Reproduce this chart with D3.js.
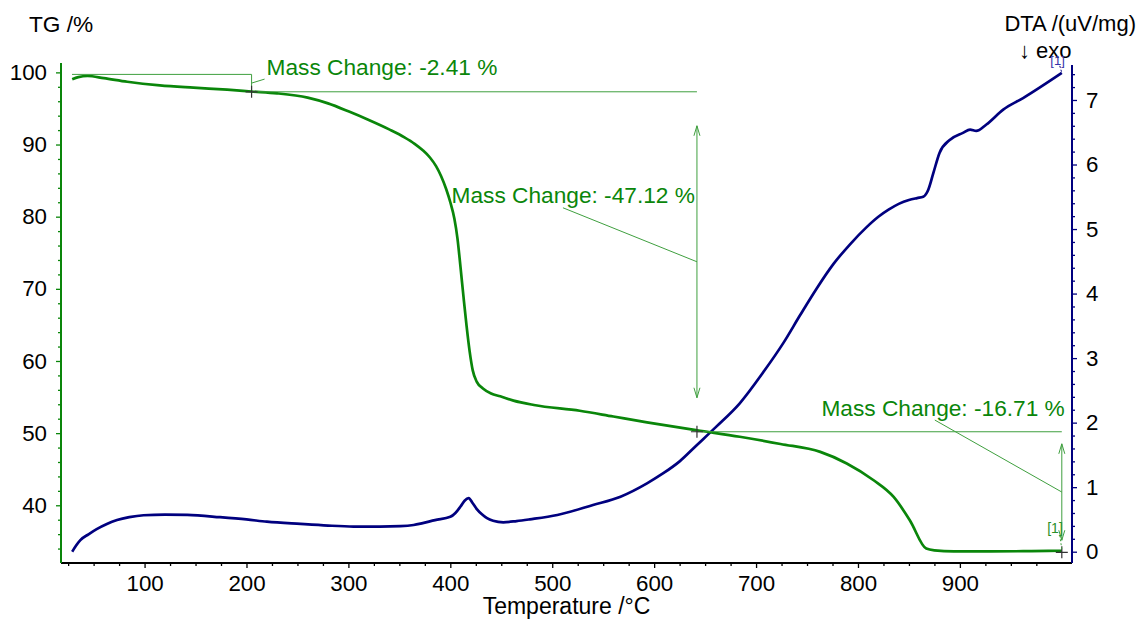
<!DOCTYPE html>
<html>
<head>
<meta charset="utf-8">
<script src="https://cdn.jsdelivr.net/npm/d3@7"></script>
<style>
  html, body { margin: 0; padding: 0; background: #fff; }
  svg text { font-family: "Liberation Sans", Arial, sans-serif; }
</style>
</head>
<body>
<svg id="chart" width="1145" height="621"></svg>
<script>
// TG curve (temperature in °C, mass in %)
const tgTemp  = [29, 35, 44, 60, 83, 115, 148, 181, 205, 230, 260, 280, 300, 320, 340, 355, 365, 373, 380, 386, 391, 396, 400, 404, 407, 410, 413, 416, 419, 422, 426, 432, 440, 449, 462, 482, 527, 560, 593, 642, 684, 724, 763, 789, 815, 835, 851, 867, 875, 894, 930, 970, 1000];
const tgValue = [99.05, 99.35, 99.5, 99.2, 98.7, 98.2, 97.88, 97.6, 97.35, 97.1, 96.5, 95.7, 94.6, 93.4, 92.1, 91.0, 90.1, 89.2, 88.2, 87.0, 85.6, 83.8, 82.0, 79.7, 77.0, 73.0, 68.8, 64.8, 61.3, 58.7, 57.1, 56.2, 55.5, 55.1, 54.5, 53.9, 53.1, 52.3, 51.5, 50.4, 49.5, 48.5, 47.4, 45.8, 43.5, 41.15, 37.9, 34.0, 33.75, 33.6, 33.6, 33.65, 33.7];

// DTA curve (temperature in °C, signal in uV/mg)
const dtaTemp  = [29, 33, 37, 45, 53, 63, 73, 85, 99, 120, 142, 174, 200, 220, 253, 280, 305, 331, 351, 364, 372, 385, 400, 405, 410, 414, 418, 422, 426, 431, 436, 442, 452, 465, 478, 505, 540, 567, 593, 609, 625, 642, 661, 684, 707, 727, 743, 759.5, 776, 792, 808.5, 820, 830, 840, 850, 858, 864, 869, 874, 880, 890, 903, 910, 916, 926, 942.5, 962, 1000];
const dtaValue = [0.0, 0.1, 0.18, 0.27, 0.35, 0.43, 0.49, 0.535, 0.565, 0.575, 0.57, 0.535, 0.5, 0.465, 0.43, 0.405, 0.39, 0.388, 0.395, 0.414, 0.44, 0.49, 0.54, 0.6, 0.7, 0.79, 0.83, 0.75, 0.66, 0.58, 0.52, 0.48, 0.456, 0.475, 0.502, 0.569, 0.724, 0.853, 1.06, 1.216, 1.4, 1.654, 1.938, 2.30, 2.78, 3.24, 3.66, 4.08, 4.46, 4.76, 5.03, 5.19, 5.3, 5.39, 5.45, 5.48, 5.5, 5.61, 5.87, 6.18, 6.38, 6.49, 6.54, 6.52, 6.62, 6.85, 7.03, 7.42];

// axis ticks
const xTicks   = [100, 200, 300, 400, 500, 600, 700, 800, 900];
const tgTicks  = [40, 50, 60, 70, 80, 90, 100];
const dtaTicks = [0, 1, 2, 3, 4, 5, 6, 7];

// mass change steps
const stepStart  = [28.8, 205, 642];
const stepEnd    = [205, 642, 1000];
const stepFrom   = [99.72, 97.31, 50.19];
const stepChange = [-2.41, -47.12, -16.71];

const W = 1145, H = 621;
const margin = {top: 63, right: 73, bottom: 58, left: 61};
const green = '#0a860a', lightGreen = '#3f9f3f', blue = '#00007f';

const svg = d3.select('#chart');
svg.append('rect').attr('width', W).attr('height', H).attr('fill', '#fff');

const x  = d3.scaleLinear().domain([18, 1010]).range([margin.left, W - margin.right]);
const yL = d3.scaleLinear().domain([32, 101.3]).range([H - margin.bottom, margin.top]);
const yR = d3.scaleLinear().domain([-0.175, 7.573]).range([H - margin.bottom, margin.top]);

const x0 = margin.left, x1 = W - margin.right, yB = H - margin.bottom;

// minor tick helpers
const xMinor   = d3.range(25, 1001, 25).filter(d => d % 100 !== 0);
const tgMinor  = d3.range(34, 101, 2).filter(d => d % 10 !== 0);
const dtaMinor = d3.range(0.2, 7.5, 0.2).filter(d => Math.abs(d - Math.round(d)) > 0.01);

function styleAxis(g, color) {
  g.select('.domain').remove();
  g.selectAll('.tick line').attr('stroke', color).attr('stroke-width', 1.3);
  g.selectAll('.tick text').attr('fill', '#000').attr('font-size', 22.3);
}

// bottom axis
svg.append('g').attr('transform', `translate(0,${yB})`)
  .call(d3.axisBottom(x).tickValues(xMinor).tickSize(3).tickFormat(''))
  .call(g => styleAxis(g, '#000'));
svg.append('g').attr('transform', `translate(0,${yB})`)
  .call(d3.axisBottom(x).tickValues(xTicks).tickSize(5).tickPadding(7))
  .call(g => styleAxis(g, '#000'));
svg.append('line').attr('x1', x0).attr('x2', x1).attr('y1', yB).attr('y2', yB)
  .attr('stroke', '#000').attr('stroke-width', 2);

// left TG axis
svg.append('g').attr('transform', `translate(${x0},0)`)
  .call(d3.axisLeft(yL).tickValues(tgMinor).tickSize(3).tickFormat(''))
  .call(g => styleAxis(g, green));
svg.append('g').attr('transform', `translate(${x0},0)`)
  .call(d3.axisLeft(yL).tickValues(tgTicks).tickSize(5).tickPadding(9))
  .call(g => styleAxis(g, green));
svg.append('line').attr('x1', x0).attr('x2', x0).attr('y1', margin.top).attr('y2', yB)
  .attr('stroke', green).attr('stroke-width', 2);

// right DTA axis
svg.append('g').attr('transform', `translate(${x1},0)`)
  .call(d3.axisRight(yR).tickValues(dtaMinor).tickSize(3).tickFormat(''))
  .call(g => styleAxis(g, blue));
svg.append('g').attr('transform', `translate(${x1},0)`)
  .call(d3.axisRight(yR).tickValues(dtaTicks).tickSize(5).tickPadding(9))
  .call(g => styleAxis(g, blue));
svg.append('line').attr('x1', x1).attr('x2', x1).attr('y1', margin.top + 2).attr('y2', yB)
  .attr('stroke', blue).attr('stroke-width', 2);

// axis titles
svg.append('text').attr('x', 29).attr('y', 32).attr('font-size', 22.7).text('TG /%');
svg.append('text').attr('x', 1136).attr('y', 31).attr('font-size', 22).attr('text-anchor', 'end').text('DTA /(uV/mg)');
svg.append('text').attr('x', 1019).attr('y', 58).attr('font-size', 22).text('\u2193 exo');
svg.append('text').attr('x', (x0 + x1) / 2).attr('y', 614).attr('font-size', 23)
  .attr('text-anchor', 'middle').text('Temperature /\u00B0C');

// curves
const tgData  = tgTemp.map((t, i) => [t, tgValue[i]]);
const dtaData = dtaTemp.map((t, i) => [t, dtaValue[i]]);

svg.append('path').datum(dtaData)
  .attr('d', d3.line().x(d => x(d[0])).y(d => yR(d[1])).curve(d3.curveMonotoneX))
  .attr('fill', 'none').attr('stroke', blue).attr('stroke-width', 2.7);

svg.append('path').datum(tgData)
  .attr('d', d3.line().x(d => x(d[0])).y(d => yL(d[1])).curve(d3.curveMonotoneX))
  .attr('fill', 'none').attr('stroke', green).attr('stroke-width', 2.7);

// mass change annotations
const layout = [
  {tx: 15, ty: -8, anchor: 'start', lx: 13, ly: -4},
  {tx: -2, ty: -59, anchor: 'end', lx: -134, ly: -54},
  {tx: 3, ty: -76, anchor: 'end', lx: -127, ly: -72}
];
const ann = svg.append('g').attr('stroke', lightGreen).attr('stroke-width', 1).attr('fill', 'none');

stepEnd.forEach((t1, i) => {
  const xa = x(t1), ya = yL(stepFrom[i]), yb = yL(stepFrom[i] + stepChange[i]);
  const midY = (ya + yb) / 2;
  const L = layout[i];
  // level line
  ann.append('line').attr('x1', x(stepStart[i])).attr('x2', xa).attr('y1', ya).attr('y2', ya);
  const span = yb - ya;
  if (span < 40) {
    ann.append('line').attr('x1', xa).attr('x2', xa).attr('y1', ya).attr('y2', yb);
  } else {
    const gap = span * 0.1;
    const a = ya + gap, b = yb - gap;
    ann.append('line').attr('x1', xa).attr('x2', xa).attr('y1', a).attr('y2', b);
    ann.append('path').attr('d', `M${xa - 3},${a + 10}L${xa},${a}L${xa + 3},${a + 10}`);
    ann.append('path').attr('d', `M${xa - 3},${b - 10}L${xa},${b}L${xa + 3},${b - 10}`);
  }
  // leader
  ann.append('line').attr('x1', xa + L.lx).attr('y1', midY + L.ly).attr('x2', xa).attr('y2', midY);
  // label
  svg.append('text').attr('x', xa + L.tx).attr('y', midY + L.ty)
    .attr('text-anchor', L.anchor).attr('font-size', 22.7).attr('fill', green)
    .text(`Mass Change: ${stepChange[i].toFixed(2)} %`);
  // + marker
  svg.append('path').attr('d', `M${xa - 6},${yb}H${xa + 6}M${xa},${yb - 6}V${yb + 6}`)
    .attr('stroke', '#333').attr('stroke-width', 1.2);
});

// [1] end markers
const tgEnd = [x(stepEnd[2]), yL(stepFrom[2] + stepChange[2])];
svg.append('text').attr('x', tgEnd[0] + 1).attr('y', tgEnd[1] - 19).attr('text-anchor', 'end')
  .attr('font-size', 14).attr('fill', '#2a8f2a').text('[1]');
svg.append('line').attr('x1', tgEnd[0] - 2).attr('y1', tgEnd[1] - 17).attr('x2', tgEnd[0]).attr('y2', tgEnd[1] - 3)
  .attr('stroke', lightGreen).attr('stroke-dasharray', '2,2');

const dtaEnd = [x(dtaTemp[dtaTemp.length - 1]), yR(dtaValue[dtaValue.length - 1])];
svg.append('text').attr('x', dtaEnd[0] + 3).attr('y', dtaEnd[1] - 8).attr('text-anchor', 'end')
  .attr('font-size', 13).attr('fill', '#3333aa').text('[1]');
svg.append('line').attr('x1', dtaEnd[0] - 2).attr('y1', dtaEnd[1] - 7).attr('x2', dtaEnd[0]).attr('y2', dtaEnd[1])
  .attr('stroke', blue).attr('stroke-dasharray', '2,2');
</script>
</body>
</html>
